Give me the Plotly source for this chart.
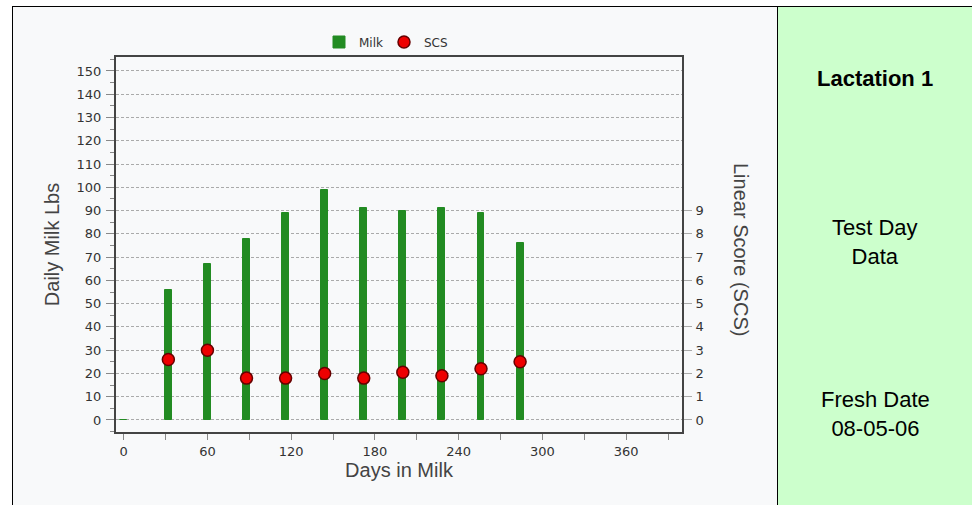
import plotly.graph_objects as go

days = [0, 32, 60, 88, 116, 144, 172, 200, 228, 256, 284]
milk = [0, 56, 67, 78, 89, 99, 91, 90, 91, 89, 76]
scs_days = [32, 60, 88, 116, 144, 172, 200, 228, 256, 284]
scs = [2.6, 3.0, 1.8, 1.8, 2.0, 1.8, 2.05, 1.9, 2.2, 2.5]
x_ticks = [0, 60, 120, 180, 240, 300, 360]
left_ticks = list(range(0, 151, 10))
right_ticks = list(range(0, 10))

W, H = 972, 505
L, R, T, B = 116, 682, 57, 432
pw, ph = R - L, B - T

def px(x):
    return (x - L) / pw

def py(y):
    return (B - y) / ph

fig = go.Figure()
fig.add_trace(go.Bar(x=days, y=milk, name="Milk", width=5,
                     marker=dict(color="#228B22", line=dict(color="#228B22", width=1))))
fig.add_trace(go.Scatter(x=scs_days, y=scs, name="SCS", mode="markers", yaxis="y2",
                         marker=dict(color="#ee0000", size=12, line=dict(color="#660000", width=1.5))))

tickfont = dict(family="DejaVu Sans", size=13, color="#333")
titlefont = dict(family="Liberation Sans", size=20, color="#444")

fig.update_layout(
    width=W, height=H,
    margin=dict(l=L, r=W - R, t=T, b=H - B),
    paper_bgcolor="#f8f9fa", plot_bgcolor="#f8f9fa",
    showlegend=True,
    legend=dict(orientation="h", x=px(384), y=py(42), xanchor="center", yanchor="middle",
                font=dict(family="DejaVu Sans", size=12, color="#333"),
                bgcolor="rgba(0,0,0,0)", itemwidth=30, tracegroupgap=0,
                entrywidth=20, entrywidthmode="pixels"),
    xaxis=dict(range=[-5.5, 400], tickvals=x_ticks, ticks="outside", ticklen=6,
               tickcolor="#888", tickfont=tickfont, showgrid=False, zeroline=False,
               showline=True, linecolor="#444", linewidth=2, mirror=True,
               minor=dict(dtick=30, tick0=0, ticks="outside", ticklen=6, tickcolor="#888"),
               title=dict(text="Days in Milk", font=titlefont, standoff=5)),
    yaxis=dict(range=[-5.16, 156], tickvals=left_ticks, ticks="outside", ticklen=8,
               ticklabelstandoff=2,
               tickcolor="#888", tickfont=tickfont, showgrid=True, gridcolor="#aaaaaa",
               griddash="3px,2px", gridwidth=1, zeroline=False,
               showline=True, linecolor="#444", linewidth=2,
               minor=dict(dtick=5, tick0=0, ticks="outside", ticklen=4, tickcolor="#888"),
               title=dict(text="Daily Milk Lbs", font=titlefont, standoff=12)),
    yaxis2=dict(range=[-0.516, 15.6], tickvals=right_ticks, overlaying="y", side="right",
                ticks="outside", ticklen=8, ticklabelstandoff=1, tickcolor="#aaa",
                tickfont=tickfont,
                showgrid=False, zeroline=False, showline=True, linecolor="#444", linewidth=2),
    bargap=0,
)

shapes = [
    dict(type="rect", xref="paper", yref="paper", x0=px(0), x1=px(W), y0=py(6), y1=py(0),
         fillcolor="white", line=dict(width=0), layer="below"),
    dict(type="rect", xref="paper", yref="paper", x0=px(0), x1=px(12), y0=py(H), y1=py(0),
         fillcolor="white", line=dict(width=0), layer="below"),
    dict(type="rect", xref="paper", yref="paper", x0=px(777), x1=px(W), y0=py(H), y1=py(6),
         fillcolor="#ccffcc", line=dict(width=0), layer="below"),
    dict(type="line", xref="paper", yref="paper", x0=px(12), x1=px(W), y0=py(6.5), y1=py(6.5),
         line=dict(color="black", width=1)),
    dict(type="line", xref="paper", yref="paper", x0=px(12.5), x1=px(12.5), y0=py(6), y1=py(H),
         line=dict(color="black", width=1)),
    dict(type="line", xref="paper", yref="paper", x0=px(777.5), x1=px(777.5), y0=py(6), y1=py(H),
         line=dict(color="black", width=1)),
]
fig.update_layout(shapes=shapes)

panel_font = dict(family="Liberation Sans", size=22, color="black")
annotations = [
    dict(text="Linear Score (SCS)", xref="paper", yref="paper", x=px(741), y=py(249),
         textangle=90, showarrow=False, font=titlefont, xanchor="center", yanchor="middle"),
    dict(text="<b>Lactation 1</b>", xref="paper", yref="paper", x=px(875), y=py(78),
         showarrow=False, font=panel_font, xanchor="center", yanchor="middle"),
    dict(text="Test Day<br>Data", xref="paper", yref="paper", x=px(875), y=py(242),
         showarrow=False, font=panel_font, xanchor="center", yanchor="middle"),
    dict(text="Fresh Date<br>08-05-06", xref="paper", yref="paper", x=px(875), y=py(414),
         showarrow=False, font=panel_font, xanchor="center", yanchor="middle"),
]
fig.update_layout(annotations=annotations)

fig.write_html("out.html", config={"displayModeBar": False},
               post_script="document.body.style.margin='0';document.body.style.overflow='hidden';")
